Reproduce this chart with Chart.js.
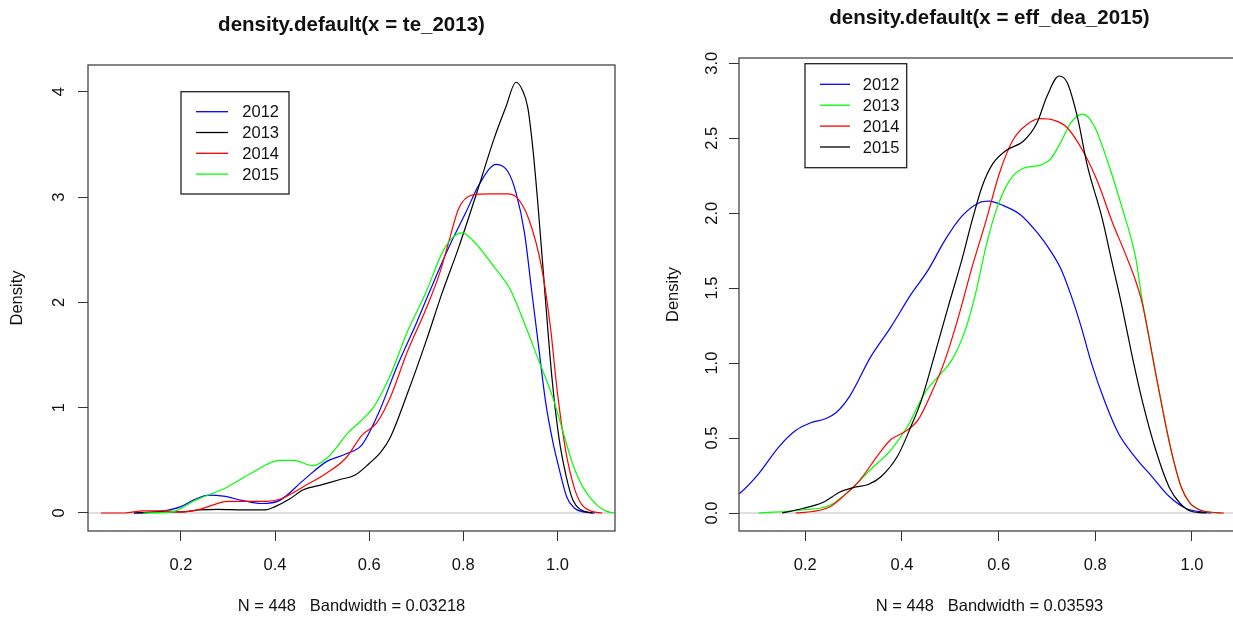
<!DOCTYPE html>
<html>
<head>
<meta charset="utf-8">
<title>density plots</title>
<script src="https://cdn.jsdelivr.net/npm/chart.js@4.4.1/dist/chart.umd.min.js"></script>
<style>
  html, body { margin: 0; padding: 0; background: #fff; overflow: hidden; }
  #wrap { position: relative; width: 1233px; height: 617px; overflow: hidden; }
  canvas { position: absolute; top: 0; }
  #te { left: 0; }
  #eff { left: 620px; }
</style>
</head>
<body>
<div id="wrap">
  <canvas id="te" width="620" height="617"></canvas>
  <canvas id="eff" width="620" height="617"></canvas>
</div>
<script>
// tick marks
const xTicks = [0.2, 0.4, 0.6, 0.8, 1.0];
const teYTicks = [0, 1, 2, 3, 4];
const effYTicks = [0, 0.5, 1, 1.5, 2, 2.5, 3];

// left panel: density of te, legend order
const teYears = ['2012', '2013', '2014', '2015'];
const teColors = ['#0000ff', '#000000', '#ff0000', '#00ff00'];

const te2012x = [0.10, 0.15, 0.20, 0.23, 0.26, 0.29, 0.33, 0.37, 0.41, 0.46, 0.51, 0.55, 0.585, 0.62, 0.66, 0.70, 0.73, 0.77, 0.805, 0.835, 0.87, 0.895, 0.912, 0.93, 0.945, 0.96, 0.975, 0.99, 1.002, 1.02, 1.035, 1.055, 1.08];
const te2012y = [0.00, 0.01, 0.06, 0.13, 0.17, 0.16, 0.12, 0.09, 0.12, 0.31, 0.49, 0.56, 0.65, 0.95, 1.40, 1.80, 2.12, 2.53, 2.85, 3.13, 3.31, 3.24, 3.04, 2.66, 2.12, 1.58, 1.05, 0.68, 0.45, 0.15, 0.05, 0.01, 0.00];

const te2013x = [0.10, 0.16, 0.20, 0.24, 0.28, 0.33, 0.38, 0.40, 0.43, 0.46, 0.50, 0.54, 0.57, 0.60, 0.625, 0.645, 0.68, 0.72, 0.755, 0.79, 0.83, 0.865, 0.89, 0.912, 0.925, 0.937, 0.948, 0.96, 0.975, 0.988, 1.003, 1.018, 1.033, 1.05, 1.075];
const te2013y = [0.00, 0.01, 0.01, 0.03, 0.035, 0.03, 0.03, 0.06, 0.13, 0.22, 0.27, 0.32, 0.36, 0.47, 0.58, 0.72, 1.12, 1.62, 2.09, 2.52, 3.06, 3.55, 3.85, 4.09, 4.02, 3.85, 3.45, 2.85, 2.00, 1.30, 0.72, 0.36, 0.12, 0.03, 0.00];

const te2014x = [0.03, 0.08, 0.12, 0.17, 0.20, 0.24, 0.30, 0.38, 0.41, 0.46, 0.51, 0.55, 0.585, 0.615, 0.645, 0.68, 0.72, 0.75, 0.77, 0.79, 0.82, 0.86, 0.893, 0.915, 0.94, 0.966, 0.985, 1.00, 1.018, 1.035, 1.05, 1.07, 1.095];
const te2014y = [0.00, 0.00, 0.02, 0.02, 0.01, 0.035, 0.11, 0.11, 0.13, 0.25, 0.38, 0.52, 0.74, 0.85, 1.10, 1.52, 1.93, 2.28, 2.59, 2.89, 3.02, 3.03, 3.03, 2.99, 2.78, 2.34, 1.77, 1.14, 0.58, 0.25, 0.09, 0.02, 0.00];

const te2015x = [0.12, 0.18, 0.23, 0.30, 0.35, 0.41, 0.44, 0.48, 0.51, 0.555, 0.61, 0.645, 0.68, 0.72, 0.755, 0.776, 0.798, 0.82, 0.865, 0.90, 0.93, 0.96, 0.99, 1.01, 1.032, 1.055, 1.085, 1.105, 1.12];
const te2015y = [0.00, 0.01, 0.12, 0.25, 0.38, 0.50, 0.50, 0.45, 0.52, 0.76, 1.01, 1.31, 1.71, 2.09, 2.47, 2.61, 2.66, 2.59, 2.34, 2.12, 1.80, 1.45, 1.10, 0.80, 0.47, 0.24, 0.07, 0.015, 0.00];

// right panel: density of eff_dea, legend order
const effYears = ['2012', '2013', '2014', '2015'];
const effColors = ['#0000ff', '#00ff00', '#ff0000', '#000000'];

const eff2012x = [0.05, 0.064, 0.103, 0.145, 0.18, 0.21, 0.243, 0.264, 0.292, 0.335, 0.377, 0.419, 0.454, 0.489, 0.524, 0.56, 0.58, 0.61, 0.645, 0.68, 0.707, 0.73, 0.75, 0.77, 0.792, 0.82, 0.848, 0.883, 0.918, 0.953, 0.988, 1.024, 1.04];
const eff2012y = [0.10, 0.13, 0.26, 0.44, 0.55, 0.60, 0.63, 0.67, 0.78, 1.04, 1.24, 1.46, 1.62, 1.82, 1.98, 2.07, 2.08, 2.05, 1.99, 1.87, 1.75, 1.62, 1.45, 1.25, 1.00, 0.74, 0.53, 0.37, 0.24, 0.11, 0.03, 0.005, 0.00];

const eff2013x = [0.103, 0.194, 0.25, 0.292, 0.335, 0.377, 0.412, 0.447, 0.475, 0.503, 0.531, 0.552, 0.574, 0.595, 0.623, 0.651, 0.686, 0.707, 0.728, 0.749, 0.774, 0.798, 0.827, 0.855, 0.883, 0.897, 0.925, 0.948, 0.962, 0.978, 0.995, 1.017, 1.04, 1.06];
const eff2013y = [0.00, 0.02, 0.05, 0.15, 0.29, 0.42, 0.58, 0.80, 0.91, 1.02, 1.22, 1.46, 1.78, 2.02, 2.22, 2.30, 2.32, 2.36, 2.47, 2.60, 2.66, 2.58, 2.33, 2.04, 1.71, 1.42, 0.93, 0.55, 0.35, 0.17, 0.07, 0.02, 0.005, 0.00];

const eff2014x = [0.18, 0.215, 0.25, 0.278, 0.313, 0.349, 0.377, 0.405, 0.433, 0.461, 0.489, 0.517, 0.545, 0.574, 0.602, 0.63, 0.658, 0.686, 0.714, 0.742, 0.777, 0.806, 0.834, 0.862, 0.88, 0.897, 0.925, 0.948, 0.962, 0.978, 0.995, 1.017, 1.04, 1.066];
const eff2014y = [0.00, 0.01, 0.04, 0.11, 0.22, 0.38, 0.49, 0.54, 0.62, 0.80, 1.02, 1.31, 1.64, 1.95, 2.27, 2.49, 2.59, 2.63, 2.62, 2.57, 2.40, 2.20, 1.95, 1.73, 1.58, 1.40, 0.93, 0.55, 0.35, 0.17, 0.07, 0.02, 0.005, 0.00];

const eff2015x = [0.152, 0.194, 0.236, 0.272, 0.30, 0.33, 0.356, 0.391, 0.419, 0.44, 0.468, 0.496, 0.524, 0.545, 0.566, 0.588, 0.616, 0.651, 0.679, 0.70, 0.725, 0.742, 0.763, 0.784, 0.813, 0.834, 0.855, 0.876, 0.897, 0.925, 0.953, 0.975, 1.0, 1.03];
const eff2015y = [0.00, 0.03, 0.07, 0.14, 0.17, 0.19, 0.24, 0.38, 0.58, 0.75, 1.06, 1.38, 1.69, 1.95, 2.18, 2.33, 2.42, 2.48, 2.60, 2.78, 2.915, 2.87, 2.64, 2.31, 1.98, 1.68, 1.38, 1.05, 0.75, 0.42, 0.17, 0.065, 0.01, 0.00];

const FONT = '"Liberation Sans", Arial, sans-serif';

// R base graphics look: box, grey zero line, rotated y labels, legend inside
const rBase = {
  id: 'rBase',
  beforeDatasetsDraw(chart, args, o) {
    const { ctx, chartArea: a, scales: { y } } = chart;
    const y0 = y.getPixelForValue(0);
    ctx.save();
    ctx.strokeStyle = '#bebebe';
    ctx.lineWidth = 1;
    ctx.beginPath();
    ctx.moveTo(a.left, y0);
    ctx.lineTo(a.right, y0);
    ctx.stroke();
    ctx.restore();
  },
  afterDraw(chart, args, o) {
    const { ctx, chartArea: a, scales: { x, y } } = chart;
    ctx.save();
    ctx.strokeStyle = '#444';
    ctx.lineWidth = 1.3;
    ctx.strokeRect(a.left, a.top, a.right - a.left, a.bottom - a.top);

    ctx.fillStyle = '#111';
    const mid = (a.left + a.right) / 2;
    ctx.textAlign = 'center';
    ctx.textBaseline = 'alphabetic';
    ctx.font = 'bold 20.5px ' + FONT;
    ctx.fillText(o.title, mid, o.titleY);
    ctx.font = '16.5px ' + FONT;
    ctx.fillText(o.sub, mid, o.subY);
    o.xTicks.forEach(v => ctx.fillText(v.toFixed(1), x.getPixelForValue(v), o.xLabY));

    const rot = (txt, px, py) => {
      ctx.save();
      ctx.translate(px, py);
      ctx.rotate(-Math.PI / 2);
      ctx.fillText(txt, 0, 0);
      ctx.restore();
    };
    o.yTicks.forEach(v => rot(o.yFmt(v), o.yLabX, y.getPixelForValue(v)));
    rot('Density', o.densX, (a.top + a.bottom) / 2);

    // legend
    const L = o.legend;
    ctx.strokeStyle = '#222';
    ctx.lineWidth = 1.3;
    ctx.strokeRect(L.x, L.y, L.w, L.h);
    ctx.textAlign = 'left';
    ctx.textBaseline = 'middle';
    chart.data.datasets.forEach((d, i) => {
      const ry = L.y + L.first + i * L.step;
      ctx.strokeStyle = d.borderColor;
      ctx.lineWidth = 1.3;
      ctx.beginPath();
      ctx.moveTo(L.x + L.line0, ry);
      ctx.lineTo(L.x + L.line1, ry);
      ctx.stroke();
      ctx.fillText(d.label, L.x + L.text, ry + 1);
    });
    ctx.restore();
  }
};

function rScale(min, max, ticks, size, isX) {
  return {
    type: 'linear',
    min: min,
    max: max,
    afterBuildTicks: s => { s.ticks = ticks.map(v => ({ value: v })); },
    afterFit: s => { if (isX) s.height = size; else s.width = size; },
    ticks: { display: false },
    grid: { drawOnChartArea: false, drawTicks: true, tickLength: 10, color: '#333', lineWidth: 1 },
    border: { display: false }
  };
}

function densityChart(id, years, colors, series, p) {
  new Chart(document.getElementById(id), {
    type: 'line',
    data: {
      datasets: years.map((yr, i) => ({
        label: yr,
        data: series[i][0].map((x, j) => ({ x: x, y: series[i][1][j] })),
        borderColor: colors[i],
        borderWidth: 1.2,
        pointRadius: 0,
        fill: false,
        cubicInterpolationMode: 'monotone',
        order: years.length - i
      }))
    },
    options: {
      responsive: false,
      animation: false,
      devicePixelRatio: 1,
      events: [],
      layout: { padding: { top: p.top, right: p.right, left: 0, bottom: 0 } },
      scales: {
        x: rScale(p.xMin, p.xMax, xTicks, p.xAxisH, true),
        y: rScale(p.yMin, p.yMax, p.yTicks, p.yAxisW, false)
      },
      plugins: {
        legend: { display: false },
        tooltip: { enabled: false },
        rBase: p.r
      }
    },
    plugins: [rBase]
  });
}

densityChart('te', teYears, teColors,
  [[te2012x, te2012y], [te2013x, te2013y], [te2014x, te2014y], [te2015x, te2015y]],
  {
    top: 65, right: 5, xAxisH: 86, yAxisW: 88,
    xMin: 0.0025, xMax: 1.1223, yMin: -0.171, yMax: 4.254, yTicks: teYTicks,
    r: {
      title: 'density.default(x = te_2013)', titleY: 31,
      sub: 'N = 448   Bandwidth = 0.03218', subY: 611,
      xTicks: xTicks, xLabY: 569.5,
      yTicks: teYTicks, yFmt: v => String(v), yLabX: 64, densX: 22,
      legend: { x: 181, y: 91.7, w: 108, h: 102.3, line0: 15, line1: 47, text: 61.3, first: 20, step: 20.8 }
    }
  });

densityChart('eff', effYears, effColors,
  [[eff2012x, eff2012y], [eff2013x, eff2013y], [eff2014x, eff2014y], [eff2015x, eff2015y]],
  {
    top: 58, right: 0, xAxisH: 86, yAxisW: 119,
    xMin: 0.0629, xMax: 1.0993, yMin: -0.12, yMax: 3.035, yTicks: effYTicks,
    r: {
      title: 'density.default(x = eff_dea_2015)', titleY: 24,
      sub: 'N = 448   Bandwidth = 0.03593', subY: 611,
      xTicks: xTicks, xLabY: 569.5,
      yTicks: effYTicks, yFmt: v => v.toFixed(1), yLabX: 96.7, densX: 58,
      legend: { x: 185, y: 63.7, w: 101.7, h: 104, line0: 15, line1: 45, text: 57.7, first: 20.6, step: 20.9 }
    }
  });
</script>
</body>
</html>
